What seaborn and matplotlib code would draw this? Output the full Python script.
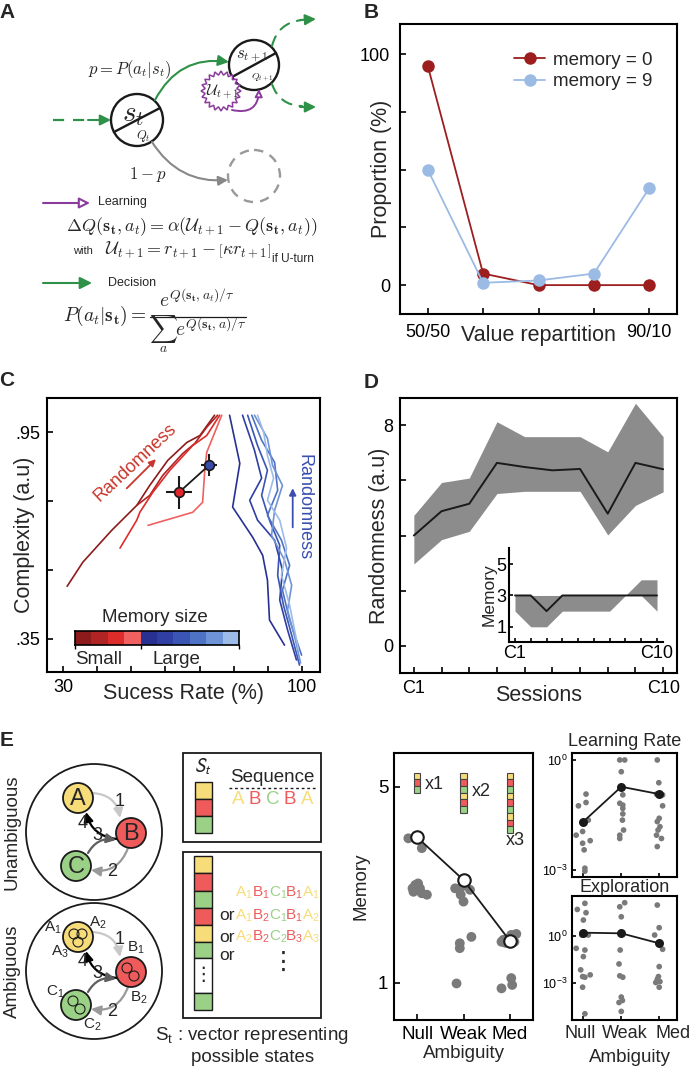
import numpy as np
import pandas as pd
import matplotlib
matplotlib.use("Agg")
import matplotlib.pyplot as plt
import seaborn as sns
from matplotlib.patches import Circle, Rectangle, FancyArrowPatch, Polygon
from matplotlib.colors import ListedColormap

# ---------------- data ----------------
# B : proportion per value repartition
b_ticklabels = ['50/50', '', '', '', '90/10']
b_mem0 = [95, 5, 0, 0, 0]
b_mem9 = [50, 1, 2, 5, 42]

# C : complexity vs success rate, one line per memory size (4 small, 6 large)
c_lines_x = [
    [31.2, 35.8, 44.3, 51.6, 55.4, 60.7, 66.3, 70.1, 74.4],
    [51.6, 55.4, 59.2, 65.1, 68.6, 72.1, 75.3],
    [46.7, 51.6, 52.5, 56.3, 61.3, 68.0, 72.1, 75.9],
    [54.9, 68.0, 70.9, 71.5, 72.1, 76.5],
    [78.8, 81.8, 79.7, 85.6, 88.5, 89.9, 90.5, 94.9],
    [82.6, 86.1, 88.2, 84.7, 87.0, 92.0, 94.3, 93.5, 95.8, 98.4],
    [84.1, 87.0, 89.9, 88.2, 90.5, 93.5, 92.9, 94.6, 97.0, 99.3],
    [85.3, 88.2, 92.0, 92.9, 89.9, 94.0, 96.4, 94.3, 96.4, 99.9],
    [86.1, 89.9, 91.4, 94.3, 92.0, 91.1, 94.9, 97.0, 95.8, 98.1, 99.6],
    [87.0, 88.8, 89.9, 91.7, 89.9, 93.5, 95.5, 94.0, 96.4, 99.0],
]
c_lines_y = [
    [0.503, 0.573, 0.666, 0.738, 0.796, 0.869, 0.921, 0.941, 1.0],
    [0.738, 0.767, 0.825, 0.889, 0.918, 0.965, 1.0],
    [0.614, 0.695, 0.718, 0.776, 0.84, 0.912, 0.941, 1.0],
    [0.68, 0.718, 0.747, 0.834, 0.892, 1.0],
    [1.0, 0.86, 0.733, 0.645, 0.593, 0.521, 0.405, 0.332],
    [1.0, 0.898, 0.817, 0.753, 0.695, 0.637, 0.55, 0.463, 0.376, 0.289],
    [1.0, 0.912, 0.84, 0.767, 0.695, 0.622, 0.535, 0.448, 0.361, 0.274],
    [1.0, 0.927, 0.863, 0.782, 0.709, 0.637, 0.564, 0.492, 0.405, 0.303],
    [1.0, 0.933, 0.854, 0.796, 0.724, 0.651, 0.579, 0.506, 0.434, 0.347, 0.28],
    [1.0, 0.95, 0.883, 0.817, 0.753, 0.695, 0.614, 0.535, 0.448, 0.318],
]
mem_colors = ['#8e1b1b', '#b02424', '#dd2c2a', '#f06060',
              '#283191', '#2f3fa3', '#3a55b3', '#4f73c4', '#6e93d6', '#9dbbe8']
c_pts_x = [64.0, 72.7]
c_pts_y = [0.776, 0.854]
c_pts_xerr = [3.9, 2.3]
c_pts_yerr = [0.048, 0.032]

# D : randomness across sessions
d_sessions = np.arange(1, 11)
d_mean = [4.0, 4.88, 5.15, 6.63, 6.48, 6.36, 6.41, 4.79, 6.63, 6.40]
d_high = [4.73, 5.92, 6.08, 8.12, 7.58, 7.58, 7.58, 7.03, 8.79, 7.58]
d_low = [2.97, 3.85, 4.15, 5.52, 5.60, 5.60, 5.60, 4.02, 5.09, 5.58]
d_mem_mean = [3, 3, 2, 3, 3, 3, 3, 3, 3, 3]
d_mem_high = [3, 3, 3, 3, 3, 3, 3, 3, 4, 4]
d_mem_low = [2, 1, 1, 2, 2, 2, 2, 3, 3, 2]

# E : memory / learning rate / exploration vs ambiguity
amb_labels = ['Null', 'Weak', 'Med']
mem_grp = [0]*10 + [1]*9 + [2]*10
mem_off = [-0.19, -0.04, 0.10, -0.04, 0.06, -0.08, 0.10, 0.21, 0.02, -0.10,
           -0.18, -0.03, 0.14, -0.06, 0.00, -0.08, -0.08, 0.17, -0.15,
           -0.14, -0.03, 0.03, 0.10, 0.14, -0.18, -0.10, -0.18, 0.03, 0.05]
mem_val = [3.95, 3.95, 3.75, 3.0, 2.93, 2.86, 2.83, 2.8, 3.03, 2.93,
           2.93, 2.97, 2.9, 2.8, 2.66, 1.81, 1.71, 1.94, 0.99,
           1.88, 1.91, 1.98, 1.84, 2.0, 1.84, 1.82, 0.89, 1.1, 0.96]
mem_mean = [3.97, 3.1, 1.86]
mem_repeats = [1, 2, 3]

lr_grp = [0]*11 + [1]*12 + [2]*12
lr_off = [0.07, -0.13, 0.07, 0.13, -0.02, -0.19, 0.18, -0.02, 0.02, 0.04, 0.04,
          -0.04, 0.09, 0.0, 0.04, -0.04, 0.04, 0.04, 0.04, 0.03, 0.06, -0.04, -0.04,
          -0.05, -0.01, -0.07, 0.09, 0.09, 0.0, -0.05, 0.02, -0.03, -0.07, 0.06, -0.05]
lr_log = [-0.93, -1.25, -1.16, -1.64, -1.95, -2.05, -2.2, -2.27, -2.45, -2.95, -3.03,
          0.0, 0.0, -0.32, -0.95, -1.18, -1.23, -1.32, -1.47, -1.64, -1.91, -2.05, -2.14,
          0.0, -0.62, -0.93, -0.95, -1.25, -1.59, -1.68, -1.82, -1.91, -2.05, -2.14, -2.36]
lr_mean_log = [-1.68, -0.73, -0.93]

ex_grp = [0]*15 + [1]*11 + [2]*10
ex_off = [0.04, -0.16, 0.07, 0.0, -0.04, 0.13, -0.19, 0.04, 0.0, -0.07, -0.02, 0.18, 0.04, -0.02, 0.04,
          0.09, -0.04, 0.0, -0.03, -0.06, -0.04, 0.04, 0.0, -0.06, 0.03, 0.0,
          -0.05, 0.0, -0.12, 0.09, 0.0, -0.02, -0.05, 0.02, -0.09, 0.0]
ex_log = [2.09, 1.7, 1.49, 1.02, 0.06, 0.06, -0.79, -0.9, -1.32, -2.17, -2.6, -2.49, -2.64, -3.28, -4.98,
          2.13, 1.87, 1.23, -0.9, -1.79, -2.55, -2.64, -3.91, -4.26, -4.13, -4.83,
          1.98, 0.53, 0.06, -0.85, -1.96, -2.6, -2.77, -2.92, -2.98, -3.28]
ex_mean_log = [0.21, 0.17, -0.47]

# ---------------- style ----------------
sns.set_theme(style='ticks')
plt.rcParams['font.family'] = ['Liberation Sans', 'DejaVu Sans']
plt.rcParams['mathtext.fontset'] = 'cm'
plt.rcParams['axes.linewidth'] = 1.5
plt.rcParams['axes.edgecolor'] = 'black'
plt.rcParams['xtick.direction'] = 'in'
plt.rcParams['ytick.direction'] = 'in'
plt.rcParams['xtick.major.size'] = 4
plt.rcParams['ytick.major.size'] = 4
plt.rcParams['xtick.major.width'] = 1.2
plt.rcParams['ytick.major.width'] = 1.2
plt.rcParams['xtick.color'] = 'black'
plt.rcParams['ytick.color'] = 'black'

W, H = 692, 1069
fig = plt.figure(figsize=(W / 100, H / 100), dpi=100)


def px_axes(x0, y0, x1, y1):
    return fig.add_axes([x0 / W, 1 - y1 / H, (x1 - x0) / W, (y1 - y0) / H])


# canvas in pixel units for the diagrams, drawn on top of the panels
cv = fig.add_axes([0, 0, 1, 1])
cv.set_xlim(0, W)
cv.set_ylim(H, 0)
cv.axis('off')
cv.set_zorder(10)

green = '#2e9147'
purple = '#8a3b9c'
dgray = '#8c8c8c'
yel, red, grn = '#f7dc7a', '#ef5b5b', '#9bd186'


def arrow(p0, p1, color, rad=0.0, lw=1.5, ls='-', head='-|>', ms=12, fc=None, z=2):
    a = FancyArrowPatch(p0, p1, connectionstyle=f'arc3,rad={rad}', arrowstyle=head,
                        mutation_scale=ms, color=color, lw=lw, linestyle=ls,
                        shrinkA=0, shrinkB=0, zorder=z)
    if fc is not None:
        a.set_facecolor(fc)
    cv.add_patch(a)


for letter, (lx, ly) in zip('ABCDE', [(7, 12), (371, 12), (7, 380), (371, 382), (7, 740)]):
    cv.text(lx, ly, letter, fontsize=15, fontweight='bold', ha='center', va='center')

# ---------------- A : diagram ----------------
def state(cx, cy, r, ls='-', ec='k'):
    cv.add_patch(Circle((cx, cy), r, fill=False, ec=ec, lw=1.7, ls=ls, zorder=2))


state(137, 120, 26)
cv.plot([114, 160], [132, 108], color='k', lw=1.7)
cv.text(133, 114, r'$s_t$', fontsize=21, ha='center', va='center')
cv.text(143, 136, r'$Q_t$', fontsize=9, ha='center', va='center')

state(254, 65, 25)
cv.plot([232, 276], [77, 53], color='k', lw=1.7)
cv.text(252, 56, r'$s_{t+1}$', fontsize=12, ha='center', va='center')
cv.text(262, 78, r'$Q_{t+1}$', fontsize=7, ha='center', va='center')

state(254, 176, 26, ls=(0, (4, 3)), ec='#999999')

ang = np.linspace(0, 2 * np.pi, 41)[:-1]
rr = np.where(np.arange(40) % 2 == 0, 20, 16)
cv.add_patch(Polygon(np.c_[221 + rr * np.cos(ang), 91 + rr * np.sin(ang)], closed=True,
                     fc='white', ec=purple, lw=1.1, zorder=3))
cv.text(222, 92, r'$\mathcal{U}_{t+1}$', fontsize=11, ha='center', va='center', zorder=4)
arrow((232, 110), (259, 89), purple, rad=0.6, lw=1.4, ms=11, fc='white', z=4)

cv.plot([53, 90], [120, 120], color=green, lw=1.6, ls=(0, (5, 4)))
arrow((88, 120), (111, 120), green, ms=16)
arrow((155, 100), (229, 62), green, rad=-0.35, ms=16)
arrow((152, 142), (228, 180), '#888888', rad=0.3, ms=14)
arrow((272, 46), (302, 20), green, rad=-0.35, head='-', ls=(0, (5, 4)))
arrow((300, 20), (316, 19), green, ms=16)
arrow((272, 84), (302, 106), green, rad=0.35, head='-', ls=(0, (5, 4)))
arrow((300, 107), (316, 107), green, ms=16)

cv.text(130, 70, r'$p = P(a_t|s_t)$', fontsize=12, ha='center', va='center')
cv.text(148, 174, r'$1-p$', fontsize=12, ha='center', va='center')

arrow((43, 203), (90, 203), purple, ms=16, fc='white')
cv.text(98, 202, 'Learning', fontsize=9, ha='left', va='center')
cv.text(192, 227, r'$\Delta Q(\mathbf{s_t}, a_t) = \alpha(\mathcal{U}_{t+1} - Q(\mathbf{s_t}, a_t))$',
        fontsize=13, ha='center', va='center')
cv.text(83, 251, 'with', fontsize=8, ha='center', va='center')
cv.text(271, 250, r'$\mathcal{U}_{t+1} = r_{t+1} - \left[\kappa r_{t+1}\right]$',
        fontsize=13, ha='right', va='center')
cv.text(272, 259, 'if U-turn', fontsize=8.5, ha='left', va='center')
arrow((43, 283), (92, 283), green, ms=18)
cv.text(108, 283, 'Decision', fontsize=9, ha='left', va='center')
cv.text(63, 316, r'$P(a_t|\mathbf{s_t}) =$', fontsize=14, ha='left', va='center')
cv.text(197, 300, r'$e^{Q(\mathbf{s_t},a_t)/\tau}$', fontsize=14, ha='center', va='center')
cv.plot([150, 246], [317, 317], color='k', lw=0.9)
cv.text(198, 334, r'$\sum_a e^{Q(\mathbf{s_t},a)/\tau}$', fontsize=14, ha='center', va='center')

# ---------------- B ----------------
ax = px_axes(400, 24, 677, 314)
df_b = pd.DataFrame({'pos': np.tile(np.arange(5), 2), 'prop': b_mem0 + b_mem9,
                     'memory': ['memory = 0'] * 5 + ['memory = 9'] * 5})
sns.lineplot(data=df_b, x='pos', y='prop', hue='memory', palette=['#9c1e1e', '#9bbbe5'],
             marker='o', markersize=9, markeredgewidth=0, lw=1.3, ax=ax)
leg = ax.get_legend()
handles, labels = leg.legend_handles, [t.get_text() for t in leg.get_texts()]
ax.legend(handles, labels, frameon=False, fontsize=13.5, loc='upper left',
          bbox_to_anchor=(0.41, 0.905), borderpad=0, borderaxespad=0,
          handlelength=1.7, handletextpad=0.4, labelspacing=0.25)
ax.set_xlim(-0.5, 4.5)
ax.set_ylim(-12.5, 113)
ax.set_xticks(range(5), b_ticklabels)
ax.set_yticks([0, 25, 50, 75, 100], ['0', '', '', '', '100'])
ax.tick_params(labelsize=13, pad=7)
ax.set_xlabel('Value repartition', fontsize=15.5)
ax.set_ylabel('Proportion (%)', fontsize=15.5)
ax.xaxis.set_label_coords(0.5, -0.038)
ax.yaxis.set_label_coords(-0.03, 0.5)

# ---------------- C ----------------
ax = px_axes(47, 398, 320, 672)
rows = []
for i, (xs, ys) in enumerate(zip(c_lines_x, c_lines_y)):
    for x, y in zip(xs, ys):
        rows.append((f'm{i}', x, y))
df_c = pd.DataFrame(rows, columns=['mem', 'rate', 'cplx'])
sns.lineplot(data=df_c, x='rate', y='cplx', hue='mem',
             palette={f'm{i}': c for i, c in enumerate(mem_colors)},
             sort=False, estimator=None, lw=1.2, legend=False, ax=ax)
ax.plot(c_pts_x, c_pts_y, color='k', lw=1.3, zorder=5)
for x, y, xe, ye, fc in zip(c_pts_x, c_pts_y, c_pts_xerr, c_pts_yerr, ['#e0262a', '#3a4aa8']):
    ax.errorbar([x], [y], xerr=xe, yerr=ye, fmt='o', mfc=fc, mec='k', mew=1.2, ms=7,
                ecolor='k', elinewidth=1.5, capsize=0, zorder=6)
ax.annotate('', xy=(57.8, 0.878), xytext=(48.1, 0.782),
            arrowprops=dict(arrowstyle='-|>', color='#c9362c', lw=1.3, mutation_scale=10))
ax.text(51.1, 0.863, 'Randomness', color='#c9362c', fontsize=13, rotation=43,
        ha='center', va='center', rotation_mode='anchor')
ax.annotate('', xy=(97.3, 0.796), xytext=(97.3, 0.666),
            arrowprops=dict(arrowstyle='-|>', color='#3a4fb0', lw=1.3, mutation_scale=10))
ax.text(100.6, 0.733, 'Randomness', color='#3a4fb0', fontsize=13, rotation=270,
        ha='center', va='center')
ax.set_xlim(25.3, 105.3)
ax.set_ylim(0.254, 1.05)
ax.set_xticks(np.arange(30, 101, 10), ['30', '', '', '', '', '', '', '100'])
ax.set_yticks([0.35, 0.55, 0.75, 0.95], ['.35', '', '', '.95'])
ax.tick_params(labelsize=13, pad=5)
ax.set_xlabel('Sucess Rate (%)', fontsize=15.5)
ax.set_ylabel('Complexity (a.u)', fontsize=15.5)
ax.xaxis.set_label_coords(0.5, -0.04)
ax.yaxis.set_label_coords(-0.045, 0.5)

cb = px_axes(75, 631, 239, 645)
cb.imshow(np.arange(10)[None, :], cmap=ListedColormap(mem_colors), aspect='auto')
cb.set_yticks([])
cb.set_xticks([-0.5, 3.5, 9.5], ['', '', ''])
cb.tick_params(axis='x', direction='out', length=3, width=1)
for s in cb.spines.values():
    s.set_linewidth(1.2)
cv.text(155, 617, 'Memory size', fontsize=13.5, ha='center', va='center')
cv.text(75, 659, 'Small', fontsize=13.5, ha='left', va='center')
cv.text(153, 659, 'Large', fontsize=13.5, ha='left', va='center')

# ---------------- D ----------------
ax = px_axes(400, 398, 677, 673)
ax.fill_between(d_sessions, d_low, d_high, color=dgray, lw=0)
sns.lineplot(x=d_sessions, y=d_mean, color='k', lw=1.4, ax=ax)
ax.set_xlim(0.5, 10.5)
ax.set_ylim(-0.98, 8.98)
ax.set_xticks(d_sessions, ['C1'] + [''] * 8 + ['C10'])
ax.set_yticks([0, 2, 4, 6, 8], ['0', '', '', '', '8'])
ax.tick_params(labelsize=13, pad=5)
ax.set_xlabel('Sessions', fontsize=15.5)
ax.set_ylabel('Randomness (a.u)', fontsize=15.5)
ax.xaxis.set_label_coords(0.5, -0.045)
ax.yaxis.set_label_coords(-0.035, 0.5)

ax = px_axes(509, 548, 663, 642)
ax.patch.set_alpha(0)
ax.fill_between(d_sessions, d_mem_low, d_mem_high, color=dgray, lw=0)
sns.lineplot(x=d_sessions, y=d_mem_mean, color='k', lw=1.4, ax=ax)
ax.set_xlim(0.62, 10.38)
ax.set_ylim(0.03, 6.03)
ax.spines[['top', 'right']].set_visible(False)
ax.set_xticks(d_sessions, ['C1'] + [''] * 8 + ['C10'])
ax.set_yticks([1, 3, 5], ['1', '3', '5'])
ax.tick_params(labelsize=13, pad=2, length=3)
ax.set_ylabel('Memory', fontsize=12.5, labelpad=0)

# ---------------- E : diagram ----------------
node_col = {'A': yel, 'B': red, 'C': grn}
edges = [((92, 793), (120, 818), '#c8c8c8', -0.4, '1', (120, 801)),
         ((117, 839), (86, 812), 'black', -0.35, '4', (83, 823)),
         ((88, 853), (116, 840), '#5f5f5f', -0.35, '3', (97, 835)),
         ((128, 848), (91, 870), '#999999', -0.4, '2', (112, 872))]
for dy, ambiguous in [(0, False), (139, True)]:
    cv.add_patch(Circle((94, 832 + dy), 68, fill=False, ec='k', lw=1.3))
    for p0, p1, col, rad, num, tp in edges:
        arrow((p0[0], p0[1] + dy), (p1[0], p1[1] + dy), col, rad=rad, lw=1.6, ms=14)
        cv.text(tp[0], tp[1] + dy, num, fontsize=13, ha='center', va='center')
    for name, (nx, ny) in zip('ABC', [(78, 798), (131, 833), (76, 866)]):
        cv.add_patch(Circle((nx, ny + dy), 15, fc=node_col[name], ec='k', lw=1.3, zorder=3))
        if not ambiguous:
            cv.text(nx, ny + 1, name, fontsize=17, ha='center', va='center', zorder=4)
cv.text(12, 832, 'Unambiguous', rotation=90, fontsize=13.5, ha='center', va='center')
cv.text(12, 971, 'Ambiguous', rotation=90, fontsize=13.5, ha='center', va='center')
for cx, cy in [(74, 934), (82, 934), (78, 942), (127, 968), (134, 976), (73, 1001), (80, 1009)]:
    cv.add_patch(Circle((cx, cy), 5, fill=False, ec='k', lw=0.8, zorder=4))
for lab, (lx, ly) in zip(['A_1', 'A_2', 'A_3', 'B_1', 'B_2', 'C_1', 'C_2'],
                         [(53, 928), (98, 923), (60, 952), (136, 948), (139, 998), (55, 992), (92, 1025)]):
    cv.text(lx, ly, rf'$\mathregular{{{lab}}}$', fontsize=11, ha='center', va='center')

cv.add_patch(Rectangle((183, 753), 138, 89, fill=False, ec='k', lw=1.3))
cv.add_patch(Rectangle((183, 852), 138, 166, fill=False, ec='k', lw=1.3))
cv.text(203, 767, r'$S_t$', fontsize=14, ha='center', va='center', math_fontfamily='stixsans')
for k, col in enumerate([yel, red, grn]):
    cv.add_patch(Rectangle((195, 782 + 17 * k), 17, 17, fc=col, ec='k', lw=1.0))
stack2 = [yel, red, grn, red, yel, grn, 'white', grn]
tops2 = [856, 873, 891, 908, 925, 942, 958, 993, 1010]
for k, col in enumerate(stack2):
    cv.add_patch(Rectangle((194, tops2[k]), 18, tops2[k + 1] - tops2[k], fc=col, ec='k', lw=1.0))
cv.text(203, 975, '⋮', fontsize=14, ha='center', va='center')
cv.text(272, 777, 'Sequence', fontsize=13.5, ha='center', va='center')
cv.plot([229, 316], [788, 788], color='k', lw=1, ls=(0, (2, 2)))
for k, name in enumerate('ABCBA'):
    cv.text(238 + 17.2 * k, 800, name, color=node_col[name], fontsize=13.5, ha='center', va='center')
seq_subs = [['1', '1', '1', '1', '1'], ['1', '2', '1', '1', '2'], ['2', '2', '2', '3', '3']]
for r, (subs, yy) in enumerate(zip(seq_subs, [893, 916, 937])):
    if r > 0:
        cv.text(219, yy, 'or', fontsize=12.5, ha='left', va='center')
    for k, (name, s) in enumerate(zip('ABCBA', subs)):
        cv.text(235 + 16.8 * k, yy, rf'$\mathregular{{{name}_{s}}}$', color=node_col[name],
                fontsize=11, ha='left', va='center')
cv.text(219, 955, 'or', fontsize=12.5, ha='left', va='center')
cv.text(283, 962, '⋮', fontsize=18, ha='center', va='center')
cv.text(155, 1035, r'$\mathregular{S_t}$ : vector representing', fontsize=13.5, ha='left', va='center')
cv.text(253, 1057, 'possible states', fontsize=13.5, ha='center', va='center')

# ---------------- E : memory ----------------
ax = px_axes(394, 753, 533, 1020)
sns.scatterplot(x=np.array(mem_grp) + np.array(mem_off), y=mem_val, color='#7a7a7a',
                s=50, edgecolor='none', ax=ax, zorder=2)
sns.lineplot(x=[0, 1, 2], y=mem_mean, color='k', lw=1.3, marker='o', markersize=9,
             markerfacecolor='white', markeredgecolor='k', markeredgewidth=1.5, ax=ax, zorder=3)
cell_h = 0.137
for g, n in enumerate(mem_repeats):
    cols = [yel, red, grn] * n
    for k, col in enumerate(cols):
        ax.bar(g, cell_h, bottom=5.29 - cell_h * (k + 1), width=0.14, color=col,
               edgecolor='#444444', linewidth=0.8, zorder=4)
ax.text(0.17, 5.05, 'x1', fontsize=13, ha='left', va='center')
ax.text(1.18, 4.9, 'x2', fontsize=13, ha='left', va='center')
ax.text(1.91, 3.9, 'x3', fontsize=13, ha='left', va='center')
ax.set_xlim(-0.5, 2.5)
ax.set_ylim(0.245, 5.69)
ax.set_xticks([0, 1, 2], amb_labels)
ax.set_yticks([1, 5], ['1', '5'])
ax.tick_params(labelsize=13.5, pad=4)
ax.set_xlabel('Ambiguity', fontsize=13.5, labelpad=2)
ax.set_ylabel('Memory', fontsize=13.5, labelpad=6)

# ---------------- E : learning rate and exploration ----------------
for (y0, y1), grp, off, logv, mlog, ylim, title, ty in [
        ((753, 877), lr_grp, lr_off, lr_log, lr_mean_log, (-3.19, 0.19), 'Learning Rate', 742),
        ((896, 1020), ex_grp, ex_off, ex_log, ex_mean_log, (-5.38, 2.56), 'Exploration', 888)]:
    ax = px_axes(572, y0, 677, y1)
    ax.set_yscale('log')
    sns.scatterplot(x=np.array(grp) + np.array(off), y=10.0 ** np.array(logv), color='#7a7a7a',
                    s=17, edgecolor='none', ax=ax, zorder=2)
    sns.lineplot(x=[0, 1, 2], y=10.0 ** np.array(mlog), color='k', lw=1.3, marker='o',
                 markersize=6.5, markeredgewidth=0, ax=ax, zorder=3)
    ax.set_xlim(-0.3, 2.47)
    ax.set_ylim(10 ** ylim[0], 10 ** ylim[1])
    ax.set_yticks([1e0, 1e-3], [r'$\mathregular{10^{0}}$', r'$\mathregular{10^{-3}}$'])
    ax.yaxis.set_minor_locator(matplotlib.ticker.NullLocator())
    ax.set_xticks([0, 1, 2], ['', '', ''])
    ax.tick_params(axis='y', labelsize=9, pad=3, length=3)
    ax.tick_params(axis='x', length=3)
    cv.text(625, ty, title, fontsize=13, ha='center', va='center')

for name, lx in zip(amb_labels, [580, 625, 673]):
    cv.text(lx, 1033, name, fontsize=13, ha='center', va='center')
cv.text(630, 1058, 'Ambiguity', fontsize=13.5, ha='center', va='center')

fig.savefig('out.png', dpi=100)
